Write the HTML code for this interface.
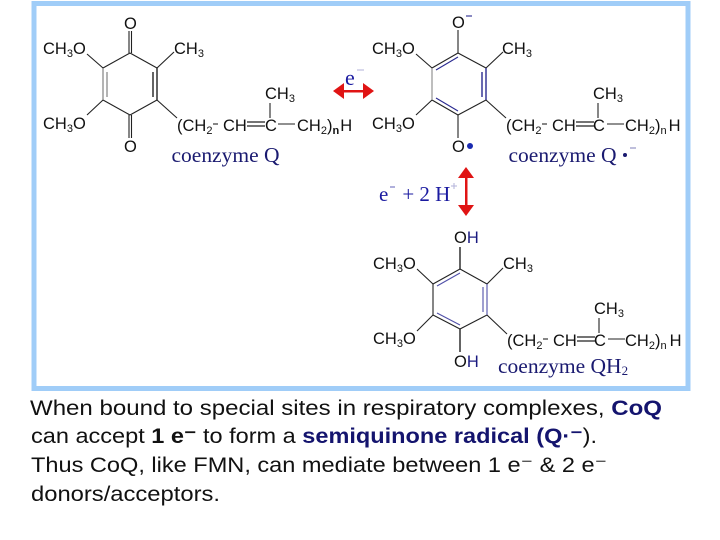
<!DOCTYPE html>
<html><head><meta charset="utf-8"><style>
html,body{margin:0;padding:0;background:#fff;width:720px;height:540px;overflow:hidden}
svg{display:block;filter:blur(0.35px)}
.a{font-family:"Liberation Sans",sans-serif;font-size:16.5px;fill:#111}
.s{font-size:11px}
.t{font-family:"Liberation Serif",serif;font-size:21.5px;fill:#1a1a70}
.b{font-family:"Liberation Sans",sans-serif;font-size:21.5px;fill:#111}
.k{font-weight:bold;fill:#14146e}
line{stroke:#222;stroke-width:1.1}
.d{stroke:#2a2a90}
</style></head><body>
<svg width="720" height="540" viewBox="0 0 720 540" xmlns="http://www.w3.org/2000/svg">
<rect x="34" y="3.500" width="654" height="385" fill="#fff" stroke="#a0cdf8" stroke-width="5"/>

<!-- Quinone -->
<g>
<line x1="130" y1="53" x2="157" y2="68"/><line x1="157" y1="100" x2="130" y2="115"/><line x1="130" y1="115" x2="103" y2="100"/><line x1="103" y1="68" x2="130" y2="53"/>
<line x1="157" y1="68" x2="157" y2="100" style="stroke-width:1.4"/><line x1="153" y1="72" x2="153" y2="97" style="stroke-width:1.4"/>
<line x1="103" y1="68" x2="103" y2="100" style="stroke:#777"/><line x1="107" y1="72" x2="107" y2="97" style="stroke:#777"/>
<line x1="129" y1="31" x2="129" y2="53"/><line x1="131.500" y1="31" x2="131.500" y2="53"/>
<line x1="129" y1="115" x2="129" y2="138"/><line x1="131.500" y1="115" x2="131.500" y2="138"/>
<line x1="103" y1="68" x2="87" y2="54"/><line x1="103" y1="100" x2="87" y2="115"/>
<line x1="157" y1="68" x2="174" y2="52"/><line x1="157" y1="100" x2="177" y2="118"/>
<text class="a" x="124" y="29">O</text><text class="a" x="124" y="152">O</text>
<text class="a" x="43" y="54">CH<tspan class="s" dy="3">3</tspan><tspan dy="-3">O</tspan></text>
<text class="a" x="43" y="129">CH<tspan class="s" dy="3">3</tspan><tspan dy="-3">O</tspan></text>
<text class="a" x="174" y="54">CH<tspan class="s" dy="3">3</tspan></text>
</g>
<g transform="translate(177,131)">
<text class="a" x="0" y="0">(CH<tspan class="s" dy="3">2</tspan></text>
<line x1="36" y1="-7" x2="41" y2="-7"/>
<text class="a" x="46" y="0">CH</text>
<line x1="70" y1="-9" x2="88" y2="-9" style="stroke-width:1.300"/><line x1="70" y1="-5" x2="88" y2="-5" style="stroke-width:1.300"/>
<text class="a" x="88" y="0">C</text>
<line x1="101" y1="-7" x2="118" y2="-7"/>
<text class="a" x="120" y="0">CH<tspan class="s" dy="3">2</tspan><tspan dy="-3">)</tspan><tspan class="s" dy="3" style="font-weight:bold">n</tspan><tspan dy="-3" dx="1">H</tspan></text>
<line x1="93" y1="-28" x2="93" y2="-13"/>
<text class="a" x="88" y="-32">CH<tspan class="s" dy="3">3</tspan></text>
</g>
<text class="t" x="171.500" y="162" textLength="108">coenzyme Q</text>

<!-- Semiquinone -->
<g>
<line x1="458" y1="53" x2="486" y2="68"/><line x1="486" y1="100" x2="458" y2="115"/><line x1="458" y1="53" x2="432" y2="68"/><line x1="432" y1="100" x2="458" y2="115"/>
<line x1="432" y1="68" x2="432" y2="100" style="stroke:#888"/>
<line class="d" x1="436" y1="70" x2="458" y2="57"/><line class="d" x1="436" y1="98" x2="458" y2="111"/>
<line class="d" x1="486" y1="68" x2="486" y2="100" style="stroke-width:1.400"/><line class="d" x1="482" y1="72" x2="482" y2="97" style="stroke-width:1.400"/>
<line x1="458" y1="30" x2="458" y2="53"/><line x1="458" y1="115" x2="458" y2="138"/>
<line x1="432" y1="68" x2="416" y2="54"/><line x1="432" y1="100" x2="416" y2="115"/>
<line x1="486" y1="68" x2="503" y2="52"/><line x1="486" y1="100" x2="506" y2="118"/>
<text class="a" x="452" y="28">O</text><line x1="466" y1="16" x2="472" y2="16" class="d"/>
<text class="a" x="452" y="152">O</text><circle cx="470" cy="146" r="3" fill="#1a2ab0"/>
<text class="a" x="372" y="54">CH<tspan class="s" dy="3">3</tspan><tspan dy="-3">O</tspan></text>
<text class="a" x="372" y="129">CH<tspan class="s" dy="3">3</tspan><tspan dy="-3">O</tspan></text>
<text class="a" x="502" y="54">CH<tspan class="s" dy="3">3</tspan></text>
</g>
<g transform="translate(506,131)">
<text class="a" x="0" y="0">(CH<tspan class="s" dy="3">2</tspan></text>
<line x1="36" y1="-7" x2="41" y2="-7"/>
<text class="a" x="46" y="0">CH</text>
<line x1="70" y1="-9" x2="88" y2="-9" style="stroke-width:1.300"/><line x1="70" y1="-5" x2="88" y2="-5" style="stroke-width:1.300"/>
<text class="a" x="87" y="0">C</text>
<line x1="101" y1="-7" x2="118" y2="-7"/>
<text class="a" x="119" y="0">CH<tspan class="s" dy="3">2</tspan><tspan dy="-3">)</tspan><tspan class="s" dy="3">n</tspan><tspan dy="-3" dx="2">H</tspan></text>
<line x1="92" y1="-28" x2="92" y2="-13"/>
<text class="a" x="87" y="-32">CH<tspan class="s" dy="3">3</tspan></text>
</g>
<text class="t" x="508.500" y="162" textLength="108">coenzyme Q</text>
<circle cx="625" cy="155" r="2" fill="#1a1a70"/><line x1="630" y1="148" x2="636" y2="148" style="stroke:#8a8ac0"/>

<!-- Arrows -->
<g fill="#e01414">
<rect x="340" y="90" width="28" height="2.500"/>
<polygon points="333,91 344,83 344,99"/><polygon points="374,91 363,83 363,99"/>
<rect x="465" y="174" width="2.500" height="36"/>
<polygon points="466,167 458,178 474,178"/><polygon points="466,216 458,205 474,205"/>
</g>
<text x="345" y="85" style="font-family:'Liberation Serif',serif;font-size:22px;fill:#1a1aa0">e</text>
<line x1="357" y1="70" x2="364" y2="70" style="stroke:#b8b8dc"/>
<text x="379" y="201" style="font-family:'Liberation Serif',serif;font-size:21px;fill:#1a1aa0">e<tspan dx="14">+ 2 H</tspan></text>
<line x1="390" y1="187" x2="395" y2="187" style="stroke:#7070c0"/>
<line x1="451" y1="186" x2="457" y2="186" style="stroke:#b8b8dc"/><line x1="454" y1="183" x2="454" y2="189" style="stroke:#b8b8dc"/>

<!-- Hydroquinone -->
<g>
<line x1="460" y1="269" x2="487" y2="284"/><line x1="487" y1="315" x2="460" y2="329"/><line x1="460" y1="269" x2="433" y2="284"/><line x1="433" y1="315" x2="460" y2="329"/>
<line x1="433" y1="284" x2="433" y2="315"/>
<line class="d" x1="437" y1="286" x2="460" y2="273" style="stroke:#5050a8"/><line class="d" x1="437" y1="313" x2="460" y2="325" style="stroke:#5050a8"/>
<line x1="487" y1="284" x2="487" y2="315" style="stroke:#5050a8"/><line x1="483" y1="287" x2="483" y2="312" style="stroke:#5050a8"/>
<line x1="460" y1="247" x2="460" y2="269" style="stroke-width:1.400"/><line x1="460" y1="329" x2="460" y2="352" style="stroke-width:1.400"/>
<line x1="433" y1="284" x2="417" y2="269"/><line x1="433" y1="315" x2="417" y2="331"/>
<line x1="487" y1="284" x2="503" y2="268"/><line x1="487" y1="315" x2="507" y2="334"/>
<text class="a" x="454" y="243">O<tspan style="fill:#1a1a80">H</tspan></text>
<text class="a" x="454" y="367">O<tspan style="fill:#1a1a80">H</tspan></text>
<text class="a" x="373" y="269">CH<tspan class="s" dy="3">3</tspan><tspan dy="-3">O</tspan></text>
<text class="a" x="373" y="344">CH<tspan class="s" dy="3">3</tspan><tspan dy="-3">O</tspan></text>
<text class="a" x="503" y="269">CH<tspan class="s" dy="3">3</tspan></text>
</g>
<g transform="translate(507,346)">
<text class="a" x="0" y="0">(CH<tspan class="s" dy="3">2</tspan></text>
<line x1="36" y1="-7" x2="41" y2="-7"/>
<text class="a" x="46" y="0">CH</text>
<line x1="70" y1="-9" x2="88" y2="-9" style="stroke-width:1.300"/><line x1="70" y1="-5" x2="88" y2="-5" style="stroke-width:1.300"/>
<text class="a" x="87" y="0">C</text>
<line x1="101" y1="-7" x2="118" y2="-7"/>
<text class="a" x="118" y="0">CH<tspan class="s" dy="3">2</tspan><tspan dy="-3">)</tspan><tspan class="s" dy="3">n</tspan><tspan dy="-3" dx="3">H</tspan></text>
<line x1="92" y1="-28" x2="92" y2="-13"/>
<text class="a" x="87" y="-32">CH<tspan class="s" dy="3">3</tspan></text>
</g>
<text class="t" x="498" y="373">coenzyme QH<tspan style="font-size:13px" dy="2">2</tspan></text>

<!-- Caption -->
<text class="b" x="30" y="415" textLength="632" lengthAdjust="spacingAndGlyphs">When bound to special sites in respiratory complexes, <tspan class="k">CoQ</tspan></text>
<text class="b" x="31" y="443" textLength="566" lengthAdjust="spacingAndGlyphs">can accept <tspan style="font-weight:bold">1 e⁻</tspan> to form a <tspan class="k">semiquinone radical (Q·⁻</tspan>).</text>
<text class="b" x="31" y="472" textLength="576" lengthAdjust="spacingAndGlyphs">Thus CoQ, like FMN, can mediate between 1 e⁻ &amp; 2 e⁻</text>
<text class="b" x="31" y="501" textLength="189" lengthAdjust="spacingAndGlyphs">donors/acceptors.</text>
</svg>
</body></html>
